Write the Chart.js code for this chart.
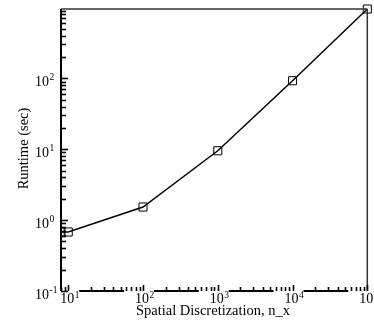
<!DOCTYPE html>
<html>
<head>
<meta charset="utf-8">
<script src="https://cdn.jsdelivr.net/npm/chart.js@4"></script>
<style>
  html, body { margin: 0; padding: 0; background: #ffffff; }
  #wrap { width: 374px; height: 322px; }
</style>
</head>
<body>
<div id="wrap"><canvas id="c" width="374" height="322"></canvas></div>
<script>
// Runtime versus spatial discretization
const nx = [8, 10, 100, 1000, 10000, 100000];
const runtime = [0.68, 0.68, 1.53, 9.5, 92.5, 950];

// Axis ranges and decade labels (10^exp)
const xRange = [8, 100000];
const yRange = [0.1, 950];
const xMajor = [10, 100, 1000, 10000, 100000];
const xExp = ['1', '2', '3', '4', '5'];
const yMajor = [0.1, 1, 10, 100];
const yExp = ['-1', '0', '1', '2'];
const xTitle = 'Spatial Discretization, n_x';
const yTitle = 'Runtime (sec)';

const SERIF = '"Liberation Serif", "Times New Roman", serif';

// 2..9 multiples of each decade inside [lo, hi]
function minorTicks(lo, hi) {
  const out = [];
  for (let d = Math.floor(Math.log10(lo)); d <= Math.ceil(Math.log10(hi)); d++) {
    const base = Math.pow(10, d);
    for (let m = 2; m <= 9; m++) {
      const v = m * base;
      if (v >= lo * 0.999 && v <= hi * 1.001) out.push(v);
    }
  }
  return out;
}

// Frame, inward ticks, decade labels and axis titles
const framePlugin = {
  id: 'frame',
  afterDraw(chart) {
    const { ctx, chartArea: a, scales: { x, y } } = chart;
    const seg = (x1, y1, x2, y2) => { ctx.beginPath(); ctx.moveTo(x1, y1); ctx.lineTo(x2, y2); ctx.stroke(); };
    ctx.save();

    // top and right borders
    ctx.strokeStyle = '#333';
    ctx.lineWidth = 1.5;
    seg(a.left, a.top, a.right, a.top);
    seg(a.right, a.top, a.right, a.bottom);

    // left axis
    ctx.strokeStyle = '#000';
    ctx.lineWidth = 2;
    seg(a.left, a.top, a.left, a.bottom);

    // bottom axis, interrupted under each decade label
    const xm = xMajor.map(v => x.getPixelForValue(v));
    let start = a.left;
    xm.forEach(p => {
      const end = Math.min(p - 19, a.right);
      if (end > start) seg(start, a.bottom, end, a.bottom);
      start = p + 11;
    });
    if (start < a.right) seg(start, a.bottom, a.right, a.bottom);

    // y ticks (pointing inward)
    ctx.lineWidth = 1.6;
    minorTicks(yRange[0], yRange[1]).forEach(v => {
      const py = Math.round(y.getPixelForValue(v)) + 0.5;
      seg(a.left, py, a.left + 5, py);
    });
    yMajor.forEach(v => {
      const py = Math.round(y.getPixelForValue(v)) + 0.5;
      seg(a.left, py, a.left + 7, py);
    });

    // x ticks (pointing inward)
    minorTicks(xRange[0], xRange[1]).forEach(v => {
      const px = Math.round(x.getPixelForValue(v)) + 0.5;
      seg(px, a.bottom, px, a.bottom - 4);
    });
    xm.forEach(p => {
      const px = Math.round(p) + 0.5;
      seg(px, a.bottom, px, a.bottom - 6);
    });

    // decade labels
    ctx.fillStyle = '#000';
    ctx.textBaseline = 'alphabetic';
    ctx.textAlign = 'left';
    const big = '14px ' + SERIF, small = '9.5px ' + SERIF;
    xm.forEach((p, i) => {
      ctx.font = big;
      const w = ctx.measureText('10').width;
      const x0 = p - w / 2 - 1;
      ctx.fillText('10', x0, 303);
      ctx.font = small;
      ctx.fillText(xExp[i], x0 + w + 0.5, 297.5);
    });
    yMajor.forEach((v, i) => {
      const py = y.getPixelForValue(v);
      ctx.font = big;
      const w = ctx.measureText('10').width;
      ctx.fillText('10', 49 - w, py + 8);
      ctx.font = small;
      ctx.fillText(yExp[i], 49.5, py + 1.5);
    });

    // axis titles
    ctx.font = '14.5px ' + SERIF;
    ctx.textAlign = 'center';
    ctx.fillText(xTitle, 213, 315);
    ctx.translate(28, 148.5);
    ctx.rotate(-Math.PI / 2);
    ctx.fillText(yTitle, 0, 0);

    ctx.restore();
  }
};

new Chart(document.getElementById('c'), {
  type: 'line',
  data: {
    datasets: [{
      data: nx.map((v, i) => ({ x: v, y: runtime[i] })),
      borderColor: '#000',
      borderWidth: 1.5,
      tension: 0,
      fill: false,
      pointStyle: 'rect',
      pointRadius: 5.7,
      pointBorderWidth: 1,
      pointBorderColor: '#000',
      pointBackgroundColor: 'rgba(0,0,0,0)',
      clip: { left: 0, top: 10, right: 10, bottom: 0 }
    }]
  },
  options: {
    responsive: false,
    animation: false,
    devicePixelRatio: 1,
    layout: { padding: { left: 61, right: 3, top: 9, bottom: 31 } },
    plugins: { legend: { display: false }, tooltip: { enabled: false } },
    scales: {
      x: { type: 'logarithmic', min: xRange[0], max: xRange[1], display: false },
      y: { type: 'logarithmic', min: yRange[0], max: yRange[1], display: false }
    }
  },
  plugins: [framePlugin]
});
</script>
</body>
</html>
